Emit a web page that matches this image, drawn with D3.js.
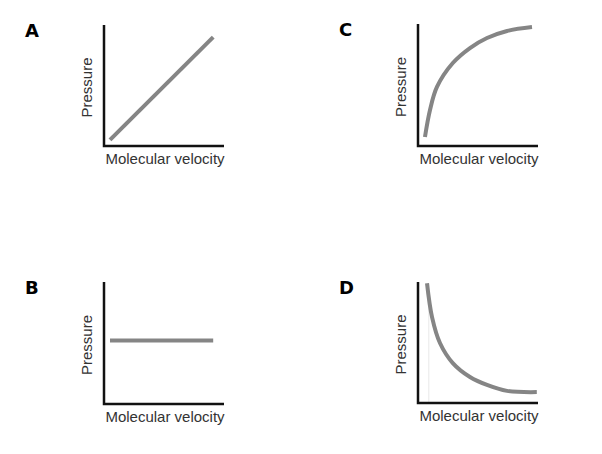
<!DOCTYPE html>
<html>
<head>
<meta charset="utf-8">
<script src="https://cdn.jsdelivr.net/npm/d3@7"></script>
<style>
  body { margin: 0; background: #fff; }
  .axis-title { font-family: "Liberation Sans", Arial, sans-serif; font-size: 15px; fill: #333; }
  .panel-label { font-family: "DejaVu Sans", Verdana, sans-serif; font-size: 18px; font-weight: bold; fill: #000; }
</style>
</head>
<body>
<svg id="chart"></svg>
<script>
// curve data, all in 0..1 units of each small plot
const panelNames = ['A', 'B', 'C', 'D'];
const lineA = [[0.05, 0.05], [0.91, 0.9]];
const lineB = [[0.05, 0.52], [0.91, 0.52]];
const curveC = [[0.058, 0.074], [0.1, 0.295], [0.158, 0.484], [0.29, 0.68], [0.433, 0.803],
                [0.575, 0.885], [0.742, 0.943], [0.95, 0.975]];
const curveD = [[0.075, 0.99], [0.117, 0.71], [0.183, 0.496], [0.29, 0.33], [0.433, 0.215],
                [0.575, 0.149], [0.742, 0.1], [0.99, 0.09]];
const xLabelText = 'Molecular velocity';
const yLabelText = 'Pressure';

const svg = d3.select('#chart').attr('width', 602).attr('height', 454);

// layout of the four small plots
const panels = [
  {name: 'A', data: lineA,  left: 104, top: 25,  bottom: 146},
  {name: 'B', data: lineB,  left: 104, top: 282, bottom: 404},
  {name: 'C', data: curveC, left: 418, top: 24,  bottom: 146},
  {name: 'D', data: curveD, left: 418, top: 282, bottom: 403}
];
const plotWidth = 120;

panels.forEach(p => {
  const x = d3.scaleLinear([0, 1], [p.left, p.left + plotWidth]);
  const y = d3.scaleLinear([0, 1], [p.bottom, p.top]);
  const g = svg.append('g');

  // faint guide line seen in D
  if (p.name == 'D') {
    g.append('line')
      .attr('x1', x(0.09)).attr('x2', x(0.09))
      .attr('y1', y(0.99)).attr('y2', y(0))
      .attr('stroke', '#e8e8e8').attr('stroke-width', 1);
  }

  const line = d3.line()
    .x(d => x(d[0]))
    .y(d => y(d[1]))
    .curve(d3.curveCatmullRom.alpha(0.5));

  g.append('path')
    .datum(p.data)
    .attr('d', line)
    .attr('fill', 'none')
    .attr('stroke', '#858585')
    .attr('stroke-width', 4);

  // axes as plain lines (no ticks)
  g.append('path')
    .attr('d', `M${x(0)},${y(1)}V${y(0)}H${x(1)}`)
    .attr('fill', 'none')
    .attr('stroke', '#111')
    .attr('stroke-width', 2.5);

  g.append('text')
    .attr('class', 'axis-title')
    .attr('x', x(0.5) + 1)
    .attr('y', p.bottom + 18)
    .attr('text-anchor', 'middle')
    .text(xLabelText);

  g.append('text')
    .attr('class', 'axis-title')
    .attr('transform', `translate(${p.left - 12},${(p.top + p.bottom) / 2 + 2}) rotate(-90)`)
    .attr('text-anchor', 'middle')
    .text(yLabelText);

  g.append('text')
    .attr('class', 'panel-label')
    .attr('x', p.left - 79)
    .attr('y', p.top + 12)
    .text(p.name);
});
</script>
</body>
</html>
